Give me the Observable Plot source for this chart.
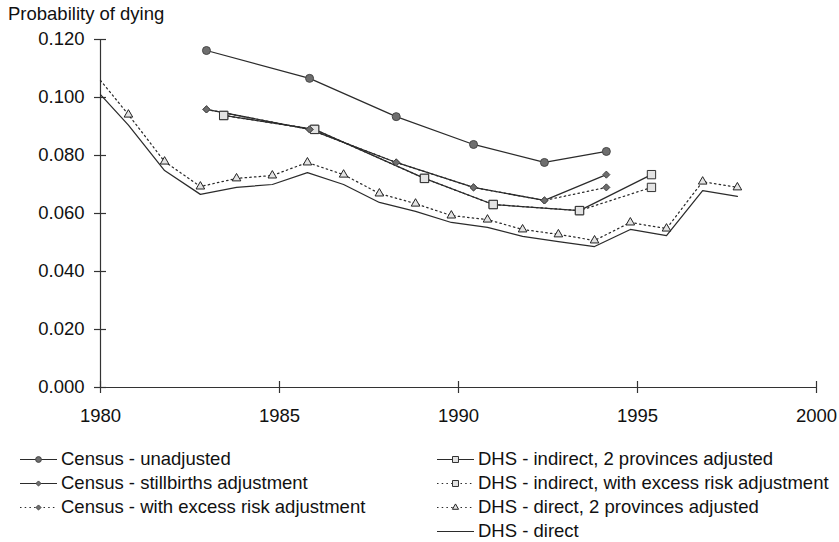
<!DOCTYPE html>
<html><head><meta charset="utf-8">
<script src="https://cdn.jsdelivr.net/npm/d3@7"></script>
<script src="https://cdn.jsdelivr.net/npm/@observablehq/plot@0.6"></script>
<style>
body{margin:0;background:#fff;font-family:"Liberation Sans",Arial,sans-serif;}
#wrap{position:relative;width:839px;height:542px;overflow:hidden;}
#title{position:absolute;left:8px;top:3px;font-size:18.5px;color:#111;}
.leg{position:absolute;font-size:18.5px;color:#111;}
.row{height:24px;display:flex;align-items:center;white-space:nowrap;}
.row svg{margin-right:4px;flex:none;}
</style></head><body>
<div id="wrap">
<div id="chart"></div>
<div id="title">Probability of dying</div>
<div class="leg" id="legL" style="left:20px;top:447px"></div>
<div class="leg" id="legR" style="left:437px;top:447px"></div>
</div>
<script>
// ---- data ----
const xTicks = [1980, 1985, 1990, 1995, 2000];
const yTicks = [0, 0.02, 0.04, 0.06, 0.08, 0.10, 0.12];

const censusYears = [1982.96, 1985.84, 1988.26, 1990.42, 1992.40, 1994.13];
const censusUnadjusted = [0.1162, 0.1066, 0.0934, 0.0838, 0.0776, 0.0814];
const censusStillbirths = [0.0959, 0.0890, 0.0776, 0.0690, 0.0645, 0.0734];
const censusExcessRisk = [0.0959, 0.0890, 0.0776, 0.0690, 0.0645, 0.0690];

const dhsIndirectYears = [1983.44, 1985.98, 1989.05, 1990.97, 1993.38, 1995.39];
const dhsIndirect2Prov = [0.0938, 0.0890, 0.0721, 0.0631, 0.0610, 0.0734];
const dhsIndirectExcess = [0.0938, 0.0890, 0.0721, 0.0631, 0.0610, 0.0690];

const dhsDirectYears = [1980, 1980.78, 1981.79, 1982.79, 1983.80, 1984.80, 1985.78, 1986.79, 1987.79, 1988.80, 1989.80, 1990.81, 1991.79, 1992.79, 1993.80, 1994.80, 1995.81, 1996.82, 1997.79];
const dhsDirect2Prov = [0.1059, 0.0941, 0.0779, 0.0693, 0.0721, 0.0731, 0.0776, 0.0734, 0.0669, 0.0634, 0.0593, 0.0579, 0.0545, 0.0528, 0.0507, 0.0569, 0.0548, 0.0710, 0.0690];
const dhsDirect = [0.1010, 0.0905, 0.0748, 0.0666, 0.0690, 0.0700, 0.0741, 0.0700, 0.0638, 0.0607, 0.0569, 0.0552, 0.0521, 0.0503, 0.0486, 0.0545, 0.0524, 0.0679, 0.0659];

// ---- styles ----
const LINE = "#2b2b2b";
const DOT = "1.5,3.2";
const sty = {
  circle:  {symbol: "circle",   r: 4.0, fill: "#6e6e6e", stroke: "#474747", strokeWidth: 1},
  diamond: {symbol: "diamond2", r: 3.2, fill: "#6e6e6e", stroke: "#474747", strokeWidth: 1},
  square:  {symbol: "square",   r: 4.7, fill: "#e3e3e3", stroke: "#333",    strokeWidth: 1},
  triangle:{symbol: "triangle2",r: 4.1, fill: "#e3e3e3", stroke: "#222",    strokeWidth: 1}
};

const pts = (xs, ys) => xs.map((x, i) => ({x, y: ys[i]}));

const series = [
  {name: "DHS - direct", data: pts(dhsDirectYears, dhsDirect), dash: null, mark: null},
  {name: "DHS - direct, 2 provinces adjusted", data: pts(dhsDirectYears, dhsDirect2Prov), dash: DOT, mark: "triangle", dotsFrom: 1},
  {name: "DHS - indirect, with excess risk adjustment", data: pts(dhsIndirectYears, dhsIndirectExcess), dash: DOT, mark: "square"},
  {name: "DHS - indirect, 2 provinces adjusted", data: pts(dhsIndirectYears, dhsIndirect2Prov), dash: null, mark: "square"},
  {name: "Census - with excess risk adjustment", data: pts(censusYears, censusExcessRisk), dash: DOT, mark: "diamond"},
  {name: "Census - stillbirths adjustment", data: pts(censusYears, censusStillbirths), dash: null, mark: "diamond"},
  {name: "Census - unadjusted", data: pts(censusYears, censusUnadjusted), dash: null, mark: "circle"}
];

const xPerPx = 20 / 716, yPerPx = 0.12 / 348;

const marks = [
  Plot.ruleY([0], {x1: xTicks[0], x2: xTicks[xTicks.length - 1], stroke: "#333", strokeWidth: 1.2}),
  Plot.ruleX([xTicks[0]], {y1: yTicks[0], y2: yTicks[yTicks.length - 1], stroke: "#333", strokeWidth: 1.2}),
  Plot.ruleY(yTicks, {y: d => d, x1: xTicks[0] - 6 * xPerPx, x2: xTicks[0] + 6 * xPerPx, stroke: "#333", strokeWidth: 1.2}),
  Plot.ruleX(xTicks, {x: d => d, y1: -6 * yPerPx, y2: 6 * yPerPx, stroke: "#333", strokeWidth: 1.2}),
  Plot.axisX(xTicks, {tickSize: 0, tickPadding: 21, tickFormat: d => String(d), label: null, fontSize: 18.5}),
  Plot.axisY(yTicks, {tickSize: 0, tickPadding: 16, tickFormat: ".3f", label: null, fontSize: 18.5})
];
for (const s of series) {
  marks.push(Plot.line(s.data, {x: "x", y: "y", stroke: LINE, strokeWidth: 1.25, strokeDasharray: s.dash || undefined}));
}
for (const s of series) {
  if (s.mark) marks.push(Plot.dot(s.data.slice(s.dotsFrom || 0), {x: "x", y: "y", ...sty[s.mark]}));
}

const chart = Plot.plot({
  width: 839, height: 430,
  marginLeft: 100, marginRight: 23, marginTop: 39, marginBottom: 43,
  x: {domain: [1980, 2000]},
  y: {domain: [0, 0.12]},
  style: {fontFamily: '"Liberation Sans", Arial, sans-serif', fontSize: "18.5px", color: "#111", background: "#fff"},
  marks
});
document.getElementById("chart").appendChild(chart);

// ---- legend ----
const legendLeft = ["Census - unadjusted", "Census - stillbirths adjustment", "Census - with excess risk adjustment"];
const legendRight = ["DHS - indirect, 2 provinces adjusted", "DHS - indirect, with excess risk adjustment", "DHS - direct, 2 provinces adjusted", "DHS - direct"];
const symMap = {circle: d3.symbolCircle, diamond2: d3.symbolDiamond2, square: d3.symbolSquare, triangle2: d3.symbolTriangle2};
function addRows(id, names) {
  const box = d3.select("#" + id);
  for (const n of names) {
    const s = series.find(d => d.name === n);
    const row = box.append("div").attr("class", "row");
    const svg = row.append("svg").attr("width", 37).attr("height", 24);
    svg.append("line").attr("x1", 0).attr("x2", 37).attr("y1", 12.5).attr("y2", 12.5)
      .attr("stroke", LINE).attr("stroke-width", 1.2).attr("stroke-dasharray", s.dash || null);
    if (s.mark) {
      const st = sty[s.mark];
      const r = st.r * 0.72;
      svg.append("path").attr("transform", "translate(18.5,12.5)")
        .attr("d", d3.symbol(symMap[st.symbol], Math.PI * r * r)())
        .attr("fill", st.fill).attr("stroke", st.stroke).attr("stroke-width", 1);
    }
    row.append("span").text(n);
  }
}
addRows("legL", legendLeft);
addRows("legR", legendRight);
</script>
</body></html>
